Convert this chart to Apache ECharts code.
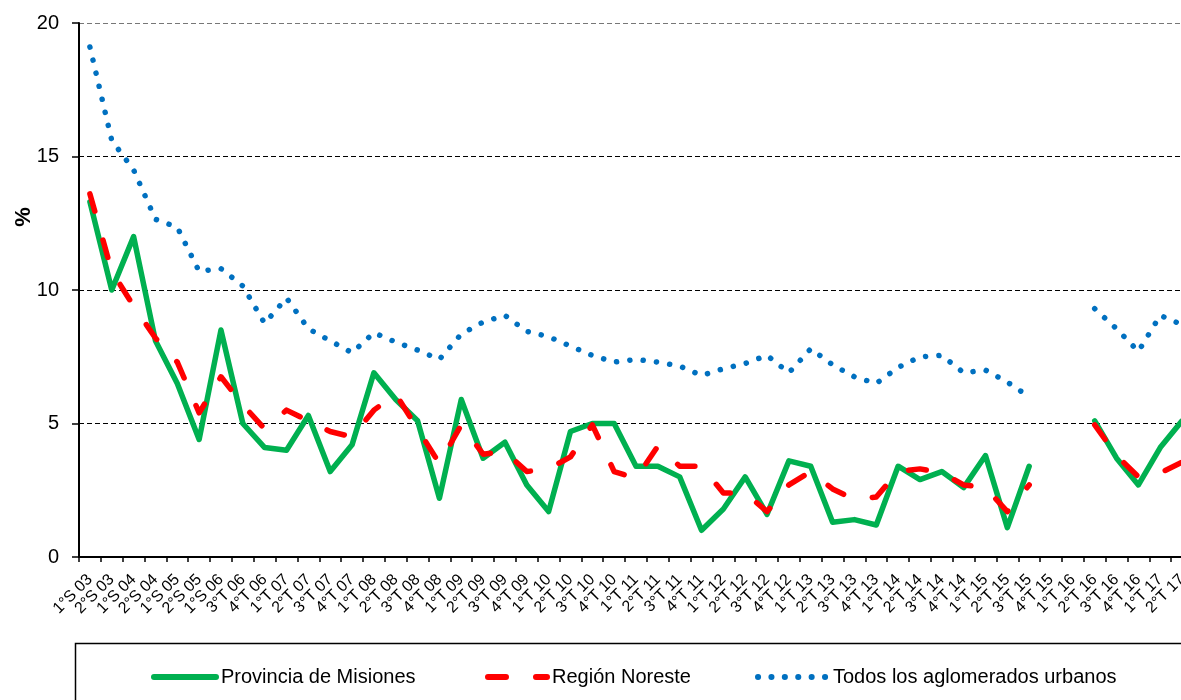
<!DOCTYPE html>
<html>
<head>
<meta charset="utf-8">
<script src="https://cdn.jsdelivr.net/npm/echarts@6.0.0/dist/echarts.min.js"></script>
<style>
  html, body { margin: 0; padding: 0; background: #fff; }
  #chart { width: 1181px; height: 700px; }
</style>
</head>
<body>
<div id="chart"></div>
<script>
// periods (semesters up to 1°S 06, quarters after)
const periods = [
  '1°S 03', '2°S 03', '1°S 04', '2°S 04', '1°S 05', '2°S 05', '1°S 06',
  '3°T 06', '4°T 06',
  '1°T 07', '2°T 07', '3°T 07', '4°T 07',
  '1°T 08', '2°T 08', '3°T 08', '4°T 08',
  '1°T 09', '2°T 09', '3°T 09', '4°T 09',
  '1°T 10', '2°T 10', '3°T 10', '4°T 10',
  '1°T 11', '2°T 11', '3°T 11', '4°T 11',
  '1°T 12', '2°T 12', '3°T 12', '4°T 12',
  '1°T 13', '2°T 13', '3°T 13', '4°T 13',
  '1°T 14', '2°T 14', '3°T 14', '4°T 14',
  '1°T 15', '2°T 15', '3°T 15', '4°T 15',
  '1°T 16', '2°T 16', '3°T 16', '4°T 16',
  '1°T 17', '2°T 17'
]

const misiones = [
  13.3, 10.0, 12.0, 8.1, 6.5, 4.4, 8.5,
  5.0, 4.1,
  4.0, 5.3, 3.2, 4.2,
  6.9, 5.9, 5.1, 2.2,
  5.9, 3.7, 4.3, 2.7,
  1.7, 4.7, 5.0, 5.0,
  3.4, 3.4, 3.0, 1.0,
  1.8, 3.0, 1.6, 3.6,
  3.4, 1.3, 1.4, 1.2,
  3.4, 2.9, 3.2, 2.6,
  3.8, 1.1, 3.4, null,
  null, 5.1, 3.7, 2.7,
  4.1, 5.1
]

const noreste = [
  13.6, 10.7, 9.4, 8.2, 7.3, 5.4, 6.75,
  5.7, 4.8,
  5.5, 5.1, 4.7, 4.5,
  5.5, 6.1, 4.8, 3.5,
  4.95, 3.85, 3.95, 3.2,
  3.3, 3.75, 4.95, 3.2,
  2.95, 4.15, 3.4, 3.4,
  2.4, 2.4, 1.7, 2.7,
  3.2, 2.55, 2.15, 2.25,
  3.2, 3.3, 3.15, 2.7,
  2.6, 1.7, 2.7, null,
  null, 4.95, 3.8, 3.0,
  3.15, 3.55
]

const aglomerados = [
  19.1, 15.6, 14.5, 12.65, 12.35, 10.7, 10.8,
  10.15, 8.75,
  9.7, 8.55, 8.1, 7.65,
  8.4, 8.05, 7.75, 7.4,
  8.35, 8.8, 9.05, 8.45,
  8.25, 7.9, 7.55, 7.3,
  7.4, 7.3, 7.15, 6.8,
  7.05, 7.25, 7.55, 6.9,
  7.8, 7.2, 6.75, 6.5,
  7.1, 7.5, 7.55, 6.9,
  7.0, 6.55, 6.0, null,
  null, 9.3, 8.55, 7.7,
  9.05, 8.7
]

const seriesNames = ['Provincia de Misiones', 'Región Noreste', 'Todos los aglomerados urbanos']

const chart = echarts.init(document.getElementById('chart'), null, { renderer: 'canvas' })
const font = 'Liberation Sans, Arial, sans-serif'

// one legend block per series so each sits where it does in the box
const legendLefts = [151, 485, 755]
const legendWidths = [62, 59, 70]
const legends = seriesNames.map((name, i) => ({
  data: [name],
  left: legendLefts[i],
  top: 667,
  padding: 0,
  itemWidth: legendWidths[i],
  itemHeight: 14,
  textStyle: { fontFamily: font, fontSize: 20, color: '#000' },
  lineStyle: { width: 6 },
  itemStyle: { color: 'rgba(0,0,0,0)', borderWidth: 0, opacity: 0 },
  selectedMode: false
}))

const option = {
  animation: false,
  backgroundColor: '#fff',
  textStyle: { fontFamily: font },
  grid: { left: 79, top: 23, bottom: 143, right: -12, outerBoundsMode: 'none', containLabel: false },
  legend: legends,
  graphic: [{
    type: 'rect',
    shape: { x: 75.5, y: 643.5, width: 1200, height: 100 },
    style: { fill: 'none', stroke: '#000', lineWidth: 1.5 },
    silent: true
  }],
  xAxis: {
    type: 'category',
    data: periods,
    boundaryGap: true,
    axisLine: { lineStyle: { color: '#000', width: 2 } },
    axisTick: { show: true, length: 5, lineStyle: { color: '#000', width: 1.5 } },
    axisLabel: {
      interval: 0,
      rotate: 45,
      margin: 20,
      padding: [12, 0, 0, 0],
      fontSize: 16,
      color: '#000',
      fontFamily: font
    },
    splitLine: { show: false }
  },
  yAxis: {
    type: 'value',
    min: 0,
    max: 20,
    interval: 5,
    name: '%',
    nameLocation: 'middle',
    nameRotate: 90,
    nameGap: 44,
    nameMoveOverlap: false,
    nameTextStyle: {
      fontFamily: font, fontSize: 22, fontWeight: 'bold', color: '#000',
      padding: [0, 0, 0, 146]
    },
    axisLine: { show: true, lineStyle: { color: '#000', width: 2 } },
    axisTick: { show: true, length: 7, lineStyle: { color: '#000', width: 1.5 } },
    axisLabel: { margin: 20, fontSize: 20, color: '#000', fontFamily: font },
    splitLine: {
      show: true,
      lineStyle: { color: ['#000', '#000', '#000', '#000', '#777'], width: 1, type: [5, 3] }
    }
  },
  series: [
    {
      name: seriesNames[0],
      type: 'line',
      data: misiones,
      symbol: 'none',
      connectNulls: false,
      lineStyle: { color: '#00B050', width: 5.5, cap: 'round', join: 'round' },
      itemStyle: { color: '#00B050' },
      z: 2
    },
    {
      name: seriesNames[1],
      type: 'line',
      data: noreste,
      symbol: 'none',
      connectNulls: false,
      lineStyle: { color: '#FF0000', width: 5.5, type: [18, 30], cap: 'round', join: 'round' },
      itemStyle: { color: '#FF0000' },
      z: 3
    },
    {
      name: seriesNames[2],
      type: 'line',
      data: aglomerados,
      symbol: 'none',
      connectNulls: false,
      lineStyle: { color: '#0070C0', width: 5.5, type: [0.1, 13.3], cap: 'round', join: 'round' },
      itemStyle: { color: '#0070C0' },
      z: 4
    }
  ]
}

chart.setOption(option)
</script>
</body>
</html>
